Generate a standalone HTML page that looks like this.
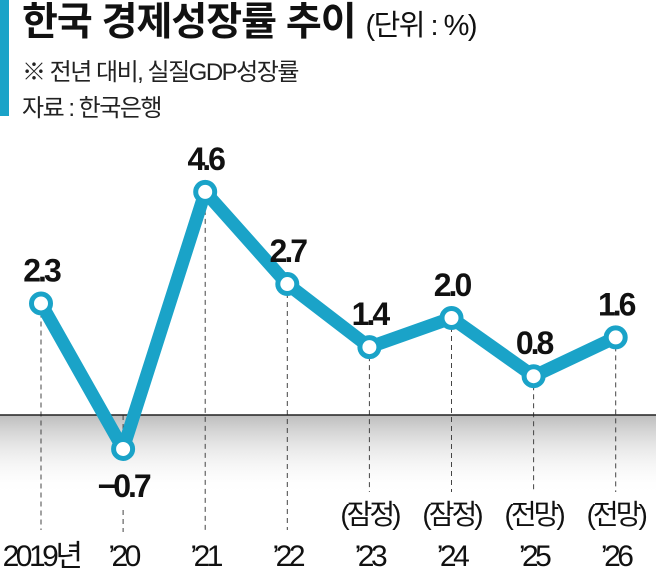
<!DOCTYPE html>
<html><head><meta charset="utf-8"><style>
html,body{margin:0;padding:0;background:#fff;}
body{width:656px;height:573px;overflow:hidden;position:relative;font-family:"Liberation Sans","Noto Sans CJK KR",sans-serif;}
#bar{position:absolute;left:0;top:0;width:9px;height:116px;background:#1aa3c8;}
#title{position:absolute;left:22px;top:0px;font-size:39px;font-weight:bold;color:#111;letter-spacing:-1px;white-space:nowrap;line-height:46px;}
#title span{font-size:29px;font-weight:normal;letter-spacing:-1.5px;}
.sub{position:absolute;left:22px;font-size:24px;color:#222;letter-spacing:-1.5px;white-space:nowrap;}
svg{position:absolute;left:0;top:0;}
</style></head><body>
<div id="bar"></div>
<div id="title">한국 경제성장률 추이 <span>(단위 : %)</span></div>
<div class="sub" style="top:52px">※ 전년 대비, 실질GDP성장률</div>
<div class="sub" style="top:88px">자료 : 한국은행</div>
<svg id="chart" width="656" height="573">
<defs><linearGradient id="g" x1="0" y1="0" x2="0" y2="1"><stop offset="0" stop-color="#bdbdbd"/><stop offset="1" stop-color="#fff" stop-opacity="0"/></linearGradient></defs>
</svg>
<script>
const years=["2019년","’20","’21","’22","’23","’24","’25","’26"];
const values=[2.3,-0.7,4.6,2.7,1.4,2.0,0.8,1.6];
const labels=["2.3","−0.7","4.6","2.7","1.4","2.0","0.8","1.6"];
const notes=["","","","","(잠정)","(잠정)","(전망)","(전망)"];
const svg=document.getElementById('chart');
const NS='http://www.w3.org/2000/svg';
const x=i=>41+i*82.1;
const y=v=>415-v*48.5;
function mk(t,a){const e=document.createElementNS(NS,t);for(const k in a)e.setAttribute(k,a[k]);svg.appendChild(e);return e;}
let r=mk('rect',{x:0,y:y(0),width:656,height:80,fill:'url(#g)'});


years.forEach((yr,i)=>{
  const top=values[i]>=0?y(values[i]):y(0);
  const bot=notes[i]?492:530;
  if(values[i]>=0){
    let l=mk('line',{x1:x(i),y1:top,x2:x(i),y2:bot,stroke:'#444','stroke-width':1,'stroke-dasharray':'5,4'});
    
    
  } else {
    let l=mk('line',{x1:x(i),y1:y(0),x2:x(i),y2:y(values[i])-10,stroke:'#444','stroke-width':1,'stroke-dasharray':'5,4'});
    
    
    let l2=mk('line',{x1:x(i),y1:510,x2:x(i),y2:532,stroke:'#444','stroke-width':1,'stroke-dasharray':'5,4'});
    
    
  }
  let t=mk('text',{x:x(i),y:566,'text-anchor':'middle','font-size':30,fill:'#111','letter-spacing':-3.5});
  t.textContent=yr;
  
  
  if(notes[i]){
    let n=mk('text',{x:x(i),y:524,'text-anchor':'middle','font-size':28,fill:'#111','letter-spacing':-3});
    n.textContent=notes[i];
    
    
  }
});
let z=mk('line',{x1:0,y1:y(0),x2:656,y2:y(0),stroke:'#222','stroke-width':1.5});


let p=mk('polyline',{points:values.map((v,i)=>x(i)+','+y(v)).join(' '),fill:'none',stroke:'#1aa3c8','stroke-width':13,'stroke-linejoin':'round'});


values.forEach((v,i)=>{
  let c=mk('circle',{cx:x(i),cy:y(v),r:9.5,fill:'#fff',stroke:'#1aa3c8','stroke-width':5});
  
  
  let t=mk('text',{x:x(i),y:v<0?y(v)+48:y(v)-22,'text-anchor':'middle','font-size':32,'font-weight':'bold',fill:'#111','letter-spacing':-3});
  t.textContent=labels[i];
  
  
});
</script>
</body></html>
